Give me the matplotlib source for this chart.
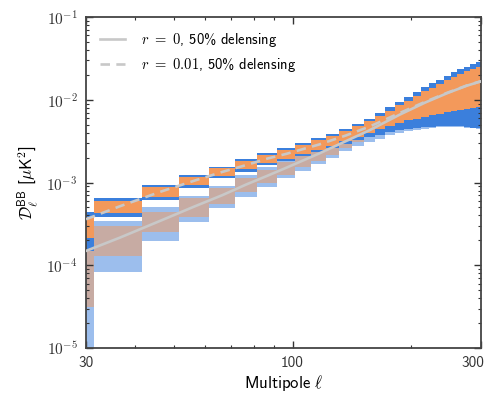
import numpy as np
import matplotlib
matplotlib.use('Agg')
import matplotlib.pyplot as plt
from matplotlib.ticker import FuncFormatter, NullFormatter
from matplotlib.transforms import ScaledTranslation

### Fontes (Computer Modern Sans, como no original)
plt.rcParams['font.family'] = ['cmss10', 'DejaVu Sans']
plt.rcParams['mathtext.fontset'] = 'cm'
plt.rcParams['axes.unicode_minus'] = False

### Dados

# bordas dos bins em multipolo (largura 10)
bin_edges = [21.5, 31.5, 41.5, 51.5, 61.5, 71.5, 81.5, 91.5, 101.5, 111.5,
             121.5, 131.5, 141.5, 151.5, 161.5, 171.5, 181.5, 191.5, 201.5,
             211.5, 221.5, 231.5, 241.5, 251.5, 261.5, 271.5, 281.5, 291.5, 301.5]

# centros dos bins, r = 0 e r = 0.01 [muK^2]
dl_r0 = [1.16e-4, 2.15e-4, 3.48e-4, 5.14e-4, 7.05e-4, 9.5e-4, 1.21e-3,
         1.51e-3, 1.85e-3, 2.23e-3, 2.63e-3, 3.16e-3, 3.70e-3, 4.27e-3,
         4.97e-3, 5.76e-3, 6.58e-3, 7.42e-3, 8.32e-3, 9.23e-3, 1.009e-2,
         1.103e-2, 1.202e-2, 1.299e-2, 1.39e-2, 1.481e-2, 1.562e-2, 1.645e-2]
dl_r001 = [2.96e-4, 5.15e-4, 7.75e-4, 1.05e-3, 1.34e-3, 1.632e-3, 1.95e-3,
           2.22e-3, 2.54e-3, 2.87e-3, 3.22e-3, 3.70e-3, 4.20e-3, 4.73e-3,
           5.38e-3, 6.12e-3, 6.89e-3, 7.69e-3, 8.55e-3, 9.43e-3, 1.026e-2,
           1.118e-2, 1.215e-2, 1.31e-2, 1.40e-2, 1.49e-2, 1.57e-2, 1.652e-2]

# barras de erro (laranja = estreita, azul = larga)
sig_orange = [0.85e-4, 0.84e-4, 0.98e-4, 1.28e-4, 1.5e-4, 1.9e-4, 2.2e-4,
              2.7e-4, 3.3e-4, 3.9e-4, 4.5e-4, 5.2e-4, 6.2e-4, 7.4e-4,
              9.6e-4, 1.24e-3, 1.65e-3, 2.07e-3, 2.62e-3, 3.16e-3, 3.72e-3,
              4.36e-3, 5.09e-3, 5.81e-3, 6.48e-3, 7.17e-3, 7.75e-3, 8.35e-3]
sig_blue = [1.46e-4, 1.31e-4, 1.53e-4, 1.82e-4, 2.1e-4, 2.75e-4, 3.2e-4,
            3.9e-4, 4.7e-4, 5.5e-4, 6.3e-4, 7.4e-4, 9.2e-4, 1.2e-3,
            1.59e-3, 2.04e-3, 2.61e-3, 3.24e-3, 3.97e-3, 4.75e-3, 5.52e-3,
            6.39e-3, 7.37e-3, 8.31e-3, 9.22e-3, 1.019e-2, 1.109e-2, 1.201e-2]

# curvas teóricas
ell_th = [30, 36.5, 46.5, 56.5, 66.5, 76.5, 86.5, 96.5, 116.5, 136.5,
          156.5, 186.5, 216.5, 246.5, 276.5, 300]
dl_th_r0 = [1.49e-4, 2.15e-4, 3.48e-4, 5.14e-4, 7.05e-4, 9.5e-4, 1.21e-3,
            1.51e-3, 2.23e-3, 3.16e-3, 4.27e-3, 6.58e-3, 9.23e-3, 1.202e-2,
            1.481e-2, 1.67e-2]
dl_th_r001 = [3.6e-4, 5.15e-4, 7.78e-4, 1.054e-3, 1.345e-3, 1.63e-3, 1.95e-3,
              2.22e-3, 2.87e-3, 3.70e-3, 4.73e-3, 6.89e-3, 9.43e-3, 1.215e-2,
              1.49e-2, 1.676e-2]

BLUE = '#3b7fdc'
ORANGE = '#f3995b'
LINE = '#c8c8c8'

### Gráfico

fig = plt.figure(figsize=(4.9, 3.93), dpi=100)
ax = fig.add_axes([0.1755, 0.1145, 0.806, 0.8422])

edges = np.array(bin_edges)
left = edges[:-1]
width = np.diff(edges)


def boxes(center, sig, color, alpha):
    center = np.array(center)
    sig = np.array(sig)
    lo = np.maximum(center - sig, 1e-8)
    hi = center + sig
    ax.bar(left, hi - lo, width=width, bottom=lo, align='edge',
           color=color, alpha=alpha, linewidth=0)


# r = 0 (transparente), depois r = 0.01 por cima
boxes(dl_r0, sig_blue, BLUE, 0.5)
boxes(dl_r0, sig_orange, ORANGE, 0.5)
boxes(dl_r001, sig_blue, BLUE, 1.0)
boxes(dl_r001, sig_orange, ORANGE, 1.0)

ax.plot(ell_th, dl_th_r0, color=LINE, lw=1.9,
        label=r'$r\ =\ \mathsf{0}$, 50% delensing', zorder=5)
ax.plot(ell_th, dl_th_r001, color=LINE, lw=1.9, dashes=(3.6, 2.4),
        label=r'$r\ =\ \mathsf{0.01}$, 50% delensing', zorder=5)

ax.set_xscale('log')
ax.set_yscale('log')
ax.set_xlim(30, 300)
ax.set_ylim(1e-5, 1e-1)
ax.set_xticks([30, 100, 300])
ax.set_xticklabels(['30', '100', '300'])
ax.xaxis.set_minor_formatter(NullFormatter())
ax.yaxis.set_major_formatter(
    FuncFormatter(lambda v, pos: r'$\mathsf{10^{%d}}$' % round(np.log10(v))))

ax.tick_params(which='both', direction='in', top=True, right=True, colors='#333333')
ax.tick_params(which='major', length=5, width=1, pad=6)
ax.tick_params(axis='x', which='major', labelsize=11)
ax.tick_params(axis='y', which='major', labelsize=11)
ax.tick_params(which='minor', length=2.5, width=0.8)
for s in ax.spines.values():
    s.set_color('#444444')
    s.set_linewidth(1.3)

# o rótulo "300" fica um pouco à esquerda, como no original
lbl = ax.get_xticklabels()[-1]
lbl.set_transform(lbl.get_transform() + ScaledTranslation(-8 / 100, 0, fig.dpi_scale_trans))

ax.set_xlabel(r'Multipole $\ell$', fontsize=12, labelpad=2)
ax.set_ylabel(r'$\mathcal{D}_\ell^{\mathsf{BB}}$ [$\mu$K$^\mathsf{2}$]', fontsize=12, labelpad=4)

ax.legend(loc='upper left', frameon=False, fontsize=10.5, handlelength=1.75,
          borderaxespad=0.55, labelspacing=0.5, handletextpad=1.1)

fig.savefig('out.png', dpi=100)
